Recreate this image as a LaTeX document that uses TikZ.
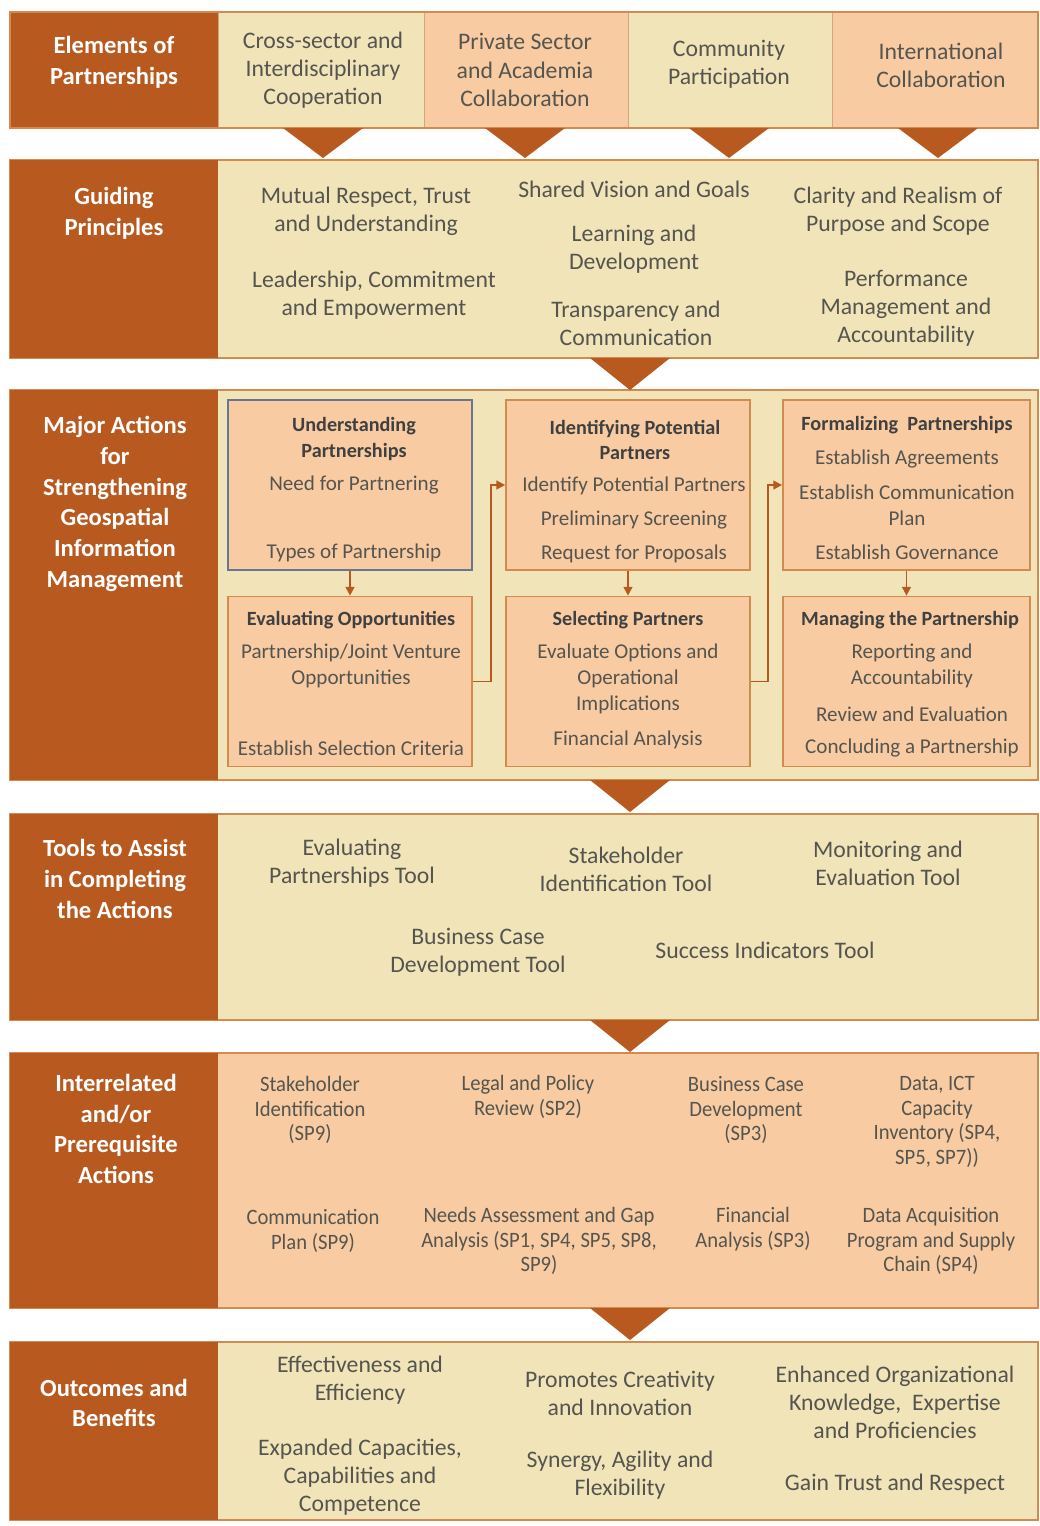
\documentclass[tikz,border=0pt]{standalone}
\usepackage{fontspec}
\setmainfont{Carlito}
\newfontfamily\narrowfont[FakeStretch=0.94]{Carlito}
\usetikzlibrary{arrows.meta}
\definecolor{rustbrown}{HTML}{B8591F}
\definecolor{creamfill}{HTML}{F2E4B9}
\definecolor{peachfill}{HTML}{F9CBA2}
\definecolor{edgeorange}{HTML}{D38A4E}
\definecolor{textgray}{HTML}{55554F}
\definecolor{bluegray}{HTML}{6A7690}
\tikzset{
  rowlabel/.style={text=white, font=\fontsize{14}{17.5}\selectfont\bfseries, align=center},
  celltext/.style={text=textgray, font=\fontsize{13.5}{16}\selectfont, align=center},
  boxtitle/.style={text=black!75, font=\fontsize{11.5}{14.5}\selectfont\bfseries, align=center},
  boxtext/.style={text=textgray, font=\fontsize{12}{15}\selectfont, align=center},
  smalltext/.style={text=textgray, font=\narrowfont\fontsize{12.5}{14}\selectfont, align=center},
  actbox/.style={draw=edgeorange, line width=1pt, fill=peachfill, minimum height=3.4cm, inner sep=0pt},
  flow/.style={draw=rustbrown, line width=1pt, -{Triangle[length=5pt,width=5pt]}},
}
\begin{document}
\begin{tikzpicture}[x=0.02cm, y=-0.02cm]
        \useasboundingbox[fill=white] (0,0) rectangle (1040,1526);
        % top row: elements of partnerships, 4 cells
        \fill[rustbrown] (10,12) rectangle (218,128);
        \foreach \xa/\xb/\fillc in {218/424/creamfill, 424/628/peachfill, 628/832/creamfill, 832/1038/peachfill}
        \filldraw[fill=\fillc, draw=brown!70] (\xa,12) rectangle (\xb,128);
        \draw[edgeorange, line width=1pt] (10,12) rectangle (1038,128);
        % other rows: top, bottom, fill of the right part
        \foreach \ya/\yb/\fillc in {160/358/creamfill, 390/780/creamfill, 814/1020/creamfill, 1053/1308/peachfill, 1342/1520/creamfill} {
        \filldraw[fill=\fillc, draw=edgeorange, line width=1pt] (10,\ya) rectangle (1038,\yb);
        \fill[rustbrown] (10,\ya) rectangle (218,\yb);
        }
        % triangles under the top row cells
        \foreach \x in {323,525,729,938}
        \fill[rustbrown] (\x-40,128) -- (\x+40,128) -- (\x,158) -- cycle;
        % triangles between the other rows
        \foreach \y in {358,780,1020,1308}
        \fill[rustbrown] (590,\y) -- (670,\y) -- (630,\y+32) -- cycle;

        % row labels
        \node[rowlabel] (lab1) at (114,62) {Elements of\\Partnerships};
        \node[rowlabel] (lab2) at (114,213) {Guiding\\Principles};
        \node[rowlabel] (lab3) at (115,504) {Major Actions\\for\\Strengthening\\Geospatial\\Information\\Management};
        \node[rowlabel] (lab4) at (115,879) {Tools to Assist\\in Completing\\the Actions};
        \node[rowlabel] (lab5) at (116,1129) {Interrelated\\and/or\\Prerequisite\\Actions};
        \node[rowlabel] (lab6) at (114,1403) {Outcomes and\\Benefits};

        % row 1
        \node[celltext] (cross) at (323,70) {Cross-sector and\\Interdisciplinary\\Cooperation};
        \node[celltext] (private) at (525,70) {Private Sector\\and Academia\\Collaboration};
        \node[celltext] (community) at (729,64) {Community\\Participation};
        \node[celltext] (intl) at (941,65) {International\\Collaboration};

        % row 2
        \node[celltext] (mutual) at (366,211) {Mutual Respect, Trust\\and Understanding};
        \node[celltext] (leader) at (374,295) {Leadership, Commitment\\and Empowerment};
        \node[celltext] (vision) at (634,189) {Shared Vision and Goals};
        \node[celltext] (learn) at (634,249) {Learning and\\Development};
        \node[celltext] (transp) at (636,323) {Transparency and\\Communication};
        \node[celltext] (clarity) at (898,211) {Clarity and Realism of\\Purpose and Scope};
        \node[celltext] (perform) at (906,308) {Performance\\Management and\\Accountability};

        % row 3: action boxes
        \node[actbox, draw=bluegray, minimum width=4.88cm] (und) at (350,485) {};
        \node[actbox, minimum width=4.88cm] (idf) at (628,485) {};
        \node[actbox, minimum width=4.94cm] (frm) at (906.5,485) {};
        \node[actbox, minimum width=4.88cm] (eva) at (350,681.5) {};
        \node[actbox, minimum width=4.88cm] (sel) at (628,681.5) {};
        \node[actbox, minimum width=4.94cm] (mng) at (906.5,681.5) {};

        \node[boxtitle] (und-t) at (354,439) {Understanding\\Partnerships};
        \node[boxtext] (und-1) at (354,485) {Need for Partnering};
        \node[boxtext] (und-2) at (354,553) {Types of Partnership};

        \node[boxtitle] (idf-t) at (635,440) {Identifying Potential\\Partners};
        \node[boxtext] (idf-1) at (634,486) {Identify Potential Partners};
        \node[boxtext] (idf-2) at (634,520) {Preliminary Screening};
        \node[boxtext] (idf-3) at (634,554) {Request for Proposals};

        \node[boxtitle] (frm-t) at (907,425) {Formalizing\ \ Partnerships};
        \node[boxtext] (frm-1) at (907,459) {Establish Agreements};
        \node[boxtext] (frm-2) at (907,505) {Establish Communication\\Plan};
        \node[boxtext] (frm-3) at (907,552) {Establish Governance};

        \node[boxtitle] (eva-t) at (351,620) {Evaluating Opportunities};
        \node[boxtext] (eva-1) at (351,666) {Partnership/Joint Venture\\Opportunities};
        \node[boxtext] (eva-2) at (351,748) {Establish Selection Criteria};

        \node[boxtitle] (sel-t) at (628,620) {Selecting Partners};
        \node[boxtext] (sel-1) at (628,679) {Evaluate Options and\\Operational\\Implications};
        \node[boxtext] (sel-2) at (628,740) {Financial Analysis};

        \node[boxtitle] (mng-t) at (910,620) {Managing the Partnership};
        \node[boxtext] (mng-1) at (912,666) {Reporting and\\Accountability};
        \node[boxtext] (mng-2) at (912,714) {Review and Evaluation};
        \node[boxtext] (mng-3) at (912,748) {Concluding a Partnership};

        % arrows between the action boxes
        \draw[flow] (und.south) -- (eva.north);
        \draw[flow] (idf.south) -- (sel.north);
        \draw[flow] (frm.south) -- (mng.north);
        \draw[flow] (eva.east) -- ++(18,0) |- (idf.west);
        \draw[flow] (sel.east) -- ++(17,0) |- (frm.west);

        % row 4
        \node[celltext] (evaltool) at (352,863) {Evaluating\\Partnerships Tool};
        \node[celltext] (staketool) at (626,869) {Stakeholder\\Identification Tool};
        \node[celltext] (montool) at (888,863) {Monitoring and\\Evaluation Tool};
        \node[celltext] (bustool) at (478,952) {Business Case\\Development Tool};
        \node[celltext] (succtool) at (765,950) {Success Indicators Tool};

        % row 5
        \node[smalltext] (stake) at (310,1110) {Stakeholder\\Identification\\(SP9)};
        \node[smalltext] (legal) at (528,1097) {Legal and Policy\\Review (SP2)};
        \node[smalltext] (business) at (746,1110) {Business Case\\Development\\(SP3)};
        \node[smalltext] (data) at (937,1122) {Data, ICT\\Capacity\\Inventory (SP4,\\SP5, SP7))};
        \node[smalltext] (comm) at (313,1231) {Communication\\Plan (SP9)};
        \node[smalltext] (needs) at (539,1241) {Needs Assessment and Gap\\Analysis (SP1, SP4, SP5, SP8,\\SP9)};
        \node[smalltext] (fin) at (753,1229) {Financial\\Analysis (SP3)};
        \node[smalltext] (acq) at (931,1241) {Data Acquisition\\Program and Supply\\Chain (SP4)};

        % row 6
        \node[celltext] (effect) at (360,1380) {Effectiveness and\\Efficiency};
        \node[celltext] (expand) at (360,1477) {Expanded Capacities,\\Capabilities and\\Competence};
        \node[celltext] (promote) at (620,1393) {Promotes Creativity\\and Innovation};
        \node[celltext] (synergy) at (620,1475) {Synergy, Agility and\\Flexibility};
        \node[celltext] (enhance) at (895,1402) {Enhanced Organizational\\Knowledge,\ \ Expertise\\and Proficiencies};
        \node[celltext] (trust) at (895,1484) {Gain Trust and Respect};
    \end{tikzpicture}
\end{document}
